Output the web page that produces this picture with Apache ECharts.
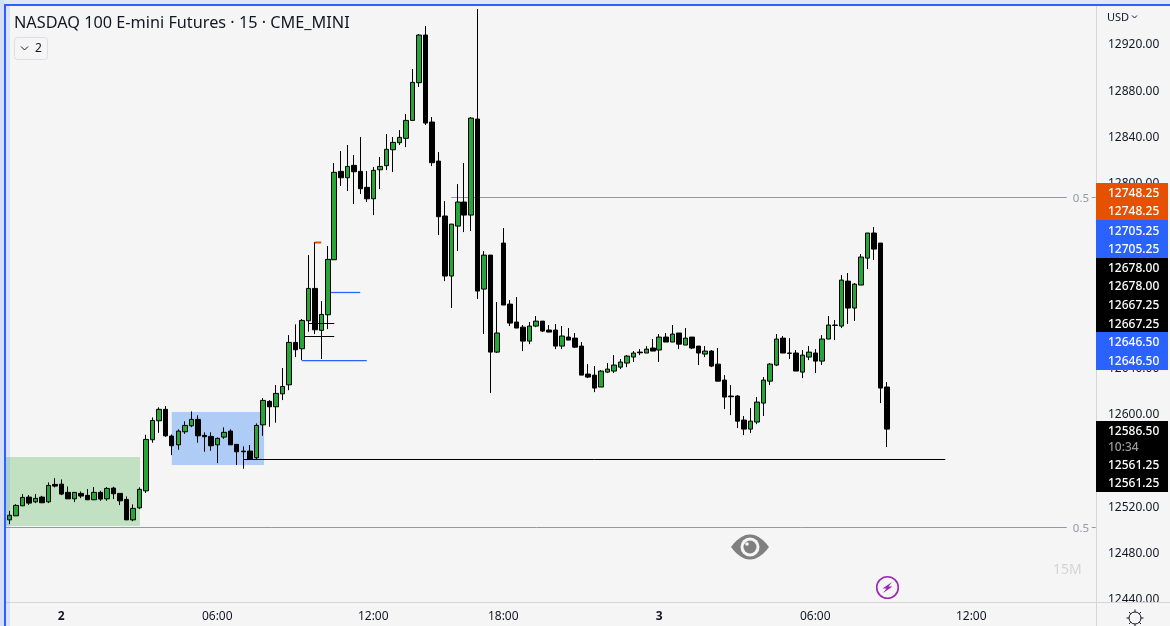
<!DOCTYPE html>
<html><head><meta charset="utf-8">
<script src="https://cdn.jsdelivr.net/npm/echarts@6/dist/echarts.min.js"></script>
<style>html,body{margin:0;padding:0;background:#f5f5f5}#c{width:1170px;height:626px}</style>
</head><body><div id="c"></div>
<script>
const opens=[12508,12511.5,12520.2,12527.7,12523.6,12527.7,12523.6,12538.7,12538.9,12531.8,
12526.2,12530.9,12529.2,12525.4,12531.8,12526.2,12535.5,12530.9,12525.7,12508,
12518.4,12533.1,12577.3,12593.7,12603.6,12580.5,12572.9,12584.2,12589.4,12594.9,
12581.1,12580.2,12572.9,12579.6,12584.8,12573.3,12567.5,12567.5,12561.7,12590.2,
12610.5,12605.8,12617,12624.8,12661.5,12656,12680.2,12708.2,12671.9,12685.4,
12733,12809.4,12803.9,12814.6,12809.4,12795.6,12785.7,12810.8,12814.3,12828.1,
12834.2,12838,12853.5,12886.1,12927.3,12852.1,12818.3,12770.8,12718.9,12762.1,
12782.9,12771.6,12854.7,12707.6,12737,12653.1,12747.4,12694.6,12679.1,12674.7,
12662.6,12675.6,12679.9,12672.2,12672.2,12658.3,12666.1,12665.2,12658.3,12634.1,
12633.2,12622.9,12635.8,12636.7,12640.1,12643.6,12648.8,12653.1,12652.3,12656.6,
12654.9,12666.1,12661.8,12669.6,12659.2,12666.1,12658.3,12651.4,12654,12642.7,
12628.9,12615.1,12615.1,12594.3,12586.5,12592.6,12609,12628,12641.9,12665.2,
12652.3,12652.3,12635.8,12648.8,12652.3,12645.3,12664.4,12676.5,12675.6,12714.5,
12691.2,12711.1,12734.4,12756.1,12747.4,12622.9];
const closes=[12512,12520.5,12527.4,12522.5,12526.6,12522.8,12537.8,12537.2,12530.3,12526.2,
12531.8,12528.6,12525.4,12531.8,12526,12535.2,12530.6,12524.5,12508,12517.9,
12534.4,12577.6,12594,12603.6,12580.7,12572.1,12584.8,12589.7,12594.9,12580.7,
12579.9,12572.1,12578.5,12583.7,12572.9,12566.9,12566.9,12560.6,12589.7,12611.3,
12605.8,12617.4,12623.4,12661.5,12655.1,12680.5,12708.2,12672.4,12685.7,12733.3,
12808.6,12803.9,12813.7,12809.1,12794.4,12785.7,12810.3,12813.7,12828.5,12834.5,
12838.8,12853.5,12886.4,12927.3,12851.2,12816.9,12770.2,12718.9,12763.8,12782.9,
12771.6,12855.5,12705.9,12737,12653.1,12669.6,12693.8,12678.2,12673.9,12662.6,
12675.6,12679.9,12671.3,12670.4,12658.3,12667,12663.5,12657.4,12633.2,12631.5,
12622,12636.7,12638.4,12641.9,12644.5,12649.7,12652.3,12652.5,12655.7,12654,
12666.1,12661.8,12668.7,12660,12665.2,12656.6,12652.3,12654,12641,12628,
12614.2,12614.5,12593.4,12586.5,12593.4,12609.9,12628.9,12642.7,12664.4,12652.3,
12652,12636.7,12650.5,12653.1,12645.3,12664.4,12676.5,12676.2,12715.4,12691.2,
12711.9,12735.3,12756.1,12742.2,12622,12586.5];
const highs=[12515.8,12521.6,12530.3,12529.4,12530.3,12528.8,12540.4,12544.1,12543,12536.9,
12531.8,12532.6,12534.6,12536.4,12533.2,12536.4,12536.6,12530.9,12528.3,12521.4,
12536.1,12581.6,12596.6,12605.3,12606.4,12581.9,12586.3,12593.2,12601.8,12598.4,
12583.7,12583.7,12579.3,12588,12586.3,12573.3,12571.6,12572.7,12591.4,12613.3,
12611.6,12624.6,12639.3,12667.8,12677.1,12681.7,12737,12748.25,12697.2,12744.8,
12816.6,12827,12832.2,12823.5,12839.1,12809.7,12813.1,12821.8,12841.7,12839.1,
12845.1,12859,12897.9,12928.2,12935.1,12856.4,12826.1,12783.7,12763.8,12798.4,
12816.6,12856.4,12949.8,12740.5,12737,12696.4,12760.4,12698.1,12700.7,12676.5,
12679.1,12684.3,12679.9,12676.5,12677.4,12675.6,12673.9,12669.6,12661.8,12642.7,
12641,12637.6,12643.6,12650.5,12647.1,12650.5,12654,12655.7,12658.3,12664.4,
12668.7,12669.6,12676.5,12669.6,12673.9,12666.1,12658.3,12658.3,12654.9,12656.6,
12633.2,12624.6,12615.9,12597.8,12604.7,12614.2,12631.5,12643.6,12668.7,12667,
12665.2,12654.9,12654.9,12658.3,12655.7,12667.8,12684.3,12680.8,12719.7,12721.5,
12712.8,12737.9,12756.1,12761.2,12747.4,12627.2];
const lows=[12504.3,12511.3,12519.9,12521,12522.5,12522.5,12522.5,12536.1,12529.4,12526,
12523.4,12526.8,12525.1,12525.1,12524.5,12524.5,12526,12520.8,12508,12506.9,
12517.3,12531.2,12574.7,12583.3,12579.8,12564,12568.6,12582.4,12588.2,12574.7,
12566.9,12567.7,12557.1,12578.1,12572.9,12555.4,12552.2,12560.3,12560.3,12580.7,
12588.5,12592,12611.6,12620.2,12648.8,12646.2,12670.7,12668.7,12647.1,12673,
12733,12796.7,12792.4,12781.1,12789.8,12782.9,12771.6,12794.1,12810.5,12808.8,
12832.2,12830.4,12853.5,12882.4,12849.5,12814,12754.3,12714.5,12691.2,12740.5,
12756.9,12757.8,12699,12668.7,12617.7,12652.3,12693.8,12675.6,12673.9,12654,
12660,12674.7,12670.4,12670.4,12655.7,12655.7,12663.5,12656.6,12633.2,12630.6,
12618.5,12622.9,12635,12635,12638.4,12640.1,12644.5,12650.5,12652.3,12654,
12644.5,12661.8,12661.8,12655.7,12659.2,12655.7,12641.9,12648.8,12640.1,12628,
12603.8,12598.6,12587.4,12581.3,12583.1,12590.8,12597.8,12624.6,12641,12652.3,
12647.1,12636.7,12630.6,12646.2,12635,12641.9,12664.4,12663.5,12673.9,12677.4,
12680,12711.1,12724.9,12732.7,12609,12571];

// x-axis tick labels: slot index -> label (slots beyond the last bar are the empty right margin)
const slotCount=168;
const tickSlots=[8,32,56,76,100,124,148];
const tickLabels=['2','06:00','12:00','18:00','3','06:00','12:00'];
const dayLabels=['2','3'];
const categories=Array.from({length:slotCount},(_,i)=>{const k=tickSlots.indexOf(i);return k<0?'':tickLabels[k];});

// zones: [startSlot,endSlot,topPrice,bottomPrice]
const zones=[[-0.5,20.1,12562.4,12502.7],[25,39.2,12601.3,12555.5]];
const zoneColors=['#c2e0c2','#aeccf5'];
// levels: [startSlot,endSlot,price]
const levels=[[36,144,12560.5],[45.5,50,12667.25],[46,50,12678],[49.5,54,12705.25],[45,55,12646.5],[47,48,12748.25]];
const levelColors=['#000000','#000000','#000000','#2962ff','#2962ff','#e65100'];
// fib lines with their 0.5 labels: [startSlot,endSlot,price]
const fibLines=[[68,162.7,12787.2],[-0.5,162.7,12501.8]];

// price tags on the scale
const priceTags=[
 {top:183,bottom:220,color:'#e65100',rows:[['12748.25',192],['12748.25',210.5]]},
 {top:220,bottom:258,color:'#2962ff',rows:[['12705.25',230],['12705.25',248]]},
 {top:258,bottom:332,color:'#000000',rows:[['12678.00',267.5],['12678.00',285.5],['12667.25',304.5],['12667.25',323]]},
 {top:332,bottom:370,color:'#2962ff',rows:[['12646.50',341.5],['12646.50',360]]},
 {top:421,bottom:492,color:'#000000',rows:[['12586.50',430],['10:34',446],['12561.25',464.5],['12561.25',482.5]]}
];
const FONT='"Noto Sans",sans-serif';

const graphic=[];
const bg='#f5f5f5';
// frame
graphic.push({type:'rect',z:60,shape:{x:0,y:0,width:1170,height:4},style:{fill:'#dfe6f5'}});
graphic.push({type:'rect',z:60,shape:{x:0,y:0,width:4,height:626},style:{fill:'#d5dff5'}});
graphic.push({type:'rect',z:60,shape:{x:6,y:6,width:4,height:620},style:{fill:'rgba(41,98,255,0.12)'}});
graphic.push({type:'rect',z:61,shape:{x:4,y:4,width:1166,height:2},style:{fill:'#2962ff'}});
graphic.push({type:'rect',z:61,shape:{x:4,y:4,width:2,height:622},style:{fill:'#2962ff'}});
// bottom strip and scale lines
graphic.push({type:'rect',z:5,shape:{x:0,y:602,width:1170,height:24},style:{fill:bg}});
graphic.push({type:'line',z:6,shape:{x1:6,y1:602.5,x2:1170,y2:602.5},style:{stroke:'#d6d6d6',lineWidth:1}});
graphic.push({type:'line',z:6,shape:{x1:1096.5,y1:6,x2:1096.5,y2:626},style:{stroke:'#d6d6d6',lineWidth:1}});
// title and buttons
graphic.push({type:'text',z:30,style:{x:14,y:23,text:'NASDAQ 100 E-mini Futures · 15 · CME_MINI',font:'16.25px '+FONT,fill:'#131722',textVerticalAlign:'middle'}});
graphic.push({type:'rect',z:30,shape:{x:14.5,y:37.5,width:33,height:22,r:3},style:{fill:bg,stroke:'#dcdee6',lineWidth:1}});
graphic.push({type:'polyline',z:31,shape:{points:[[21,46.5],[24.5,50],[28,46.5]]},style:{stroke:'#131722',lineWidth:1,fill:null}});
graphic.push({type:'text',z:31,style:{x:35,y:49,text:'2',font:'12px '+FONT,fill:'#131722',textVerticalAlign:'middle'}});
graphic.push({type:'text',z:30,style:{x:1107,y:18,text:'USD',font:'11px '+FONT,fill:'#131722',textVerticalAlign:'middle'}});
graphic.push({type:'polyline',z:31,shape:{points:[[1132,15.5],[1134.5,18],[1137,15.5]]},style:{stroke:'#131722',lineWidth:1,fill:null}});
// tags
priceTags.forEach(t=>{
 graphic.push({type:'rect',z:40,shape:{x:1096,y:t.top,width:72,height:t.bottom-t.top},style:{fill:t.color}});
 t.rows.forEach(r=>graphic.push({type:'text',z:41,style:{x:1108,y:r[1]+1.2,text:r[0],font:'500 12px '+FONT,fill:r[0]==='10:34'?'#9a9a9a':'#ffffff',textVerticalAlign:'middle'}}));
});
// eye
const eyePts=[];
for(let k=-19;k<=19;k++){eyePts.push([750+k,547-12.5*(1-k*k/361)]);}
for(let k=19;k>=-19;k--){eyePts.push([750+k,547+12.5*(1-k*k/361)]);}
graphic.push({type:'polygon',z:30,shape:{points:eyePts},style:{fill:'#808080'}});
graphic.push({type:'circle',z:31,shape:{cx:750,cy:547,r:9.5},style:{fill:'#f5f5f5'}});
graphic.push({type:'circle',z:32,shape:{cx:750,cy:547,r:6.5},style:{fill:'#808080'}});
graphic.push({type:'circle',z:33,shape:{cx:747,cy:544,r:1.8},style:{fill:'#f5f5f5'}});
// bolt
graphic.push({type:'circle',z:30,shape:{cx:887.5,cy:587.5,r:10.8},style:{fill:bg,stroke:'#9c27b0',lineWidth:1.6}});
graphic.push({type:'polygon',z:31,shape:{points:[[892,582],[882.5,588.5],[886.5,588.5],[883,593],[892.5,586.5],[888.5,586.5]]},style:{fill:'#9c27b0'}});
// 15M
graphic.push({type:'text',z:30,style:{x:1053,y:570,text:'15M',font:'14px '+FONT,fill:'#d4d4d4',textVerticalAlign:'middle'}});
// gear
graphic.push({type:'circle',z:30,shape:{cx:1135,cy:618,r:6},style:{fill:bg,stroke:'#131722',lineWidth:1}});
for(let a=0;a<8;a++){const t=a*Math.PI/4;graphic.push({type:'line',z:30,shape:{x1:1135+6*Math.cos(t),y1:618+6*Math.sin(t),x2:1135+8.5*Math.cos(t),y2:618+8.5*Math.sin(t)},style:{stroke:'#131722',lineWidth:1}});}

const chart=echarts.init(document.getElementById('c'),null,{renderer:'canvas'});
chart.setOption({
 animation:false,backgroundColor:bg,graphic:graphic,
 grid:{left:6,top:-2.75,width:1092,height:601.25,outerBoundsMode:'none',containLabel:false},
 xAxis:[
  {type:'category',data:categories,boundaryGap:true,position:'bottom',offset:3.5,z:10,
   axisLine:{show:false},axisTick:{show:false},splitLine:{show:false},
   axisLabel:{interval:0,margin:9,color:'#131722',fontFamily:FONT,fontSize:12,hideOverlap:false,
    formatter:v=>dayLabels.includes(v)?'{d|'+v+'}':v,
    rich:{d:{fontWeight:'bold',fontSize:12,fontFamily:FONT,color:'#131722'}}}},
  {type:'value',min:-0.5,max:slotCount-0.5,show:false}
 ],
 yAxis:[{type:'value',position:'right',offset:-2,min:12440,max:12960,interval:40,z:1,
   axisLine:{show:false},axisTick:{show:false},splitLine:{show:false},
   axisLabel:{margin:12,color:'#131722',fontFamily:FONT,fontSize:12,showMaxLabel:false,
    formatter:v=>'{p|'+v.toFixed(2)+'}',
    rich:{p:{padding:[3,0,0,0],color:'#131722',fontFamily:FONT,fontSize:12}}}}],
 series:[
  {type:'custom',name:'zones',xAxisIndex:1,yAxisIndex:0,z:1,silent:true,clip:false,data:zones,
   renderItem:(p,api)=>{const a=api.coord([api.value(0),api.value(2)]),b=api.coord([api.value(1),api.value(3)]);
    return {type:'rect',shape:{x:a[0],y:a[1],width:b[0]-a[0],height:b[1]-a[1]},style:{fill:zoneColors[p.dataIndex]}};}},
  {type:'custom',name:'fib',xAxisIndex:1,yAxisIndex:0,z:1,silent:true,clip:false,data:fibLines,
   renderItem:(p,api)=>{const a=api.coord([api.value(0),api.value(2)]),b=api.coord([api.value(1),api.value(2)]);const y=Math.round(a[1])+0.5;
    return {type:'group',children:[
     {type:'line',shape:{x1:a[0],y1:y,x2:b[0],y2:y},style:{stroke:'#9598a1',lineWidth:1}},
     {type:'line',shape:{x1:b[0]+25,y1:y,x2:b[0]+29,y2:y},style:{stroke:'#9598a1',lineWidth:1}},
     {type:'text',style:{x:b[0]+6,y:y+1,text:'0.5',font:'11.5px '+FONT,fill:'#9598a1',textVerticalAlign:'middle'}}
    ]};}},
  {type:'candlestick',name:'NQ',xAxisIndex:0,yAxisIndex:0,z:2,barWidth:5,
   data:opens.map((o,i)=>[o,closes[i],lows[i],highs[i]]),
   itemStyle:{color:'#26a637',color0:'#000000',borderColor:'#000000',borderColor0:'#000000',borderColorDoji:'#000000',borderWidth:1}},
  {type:'custom',name:'levels',xAxisIndex:1,yAxisIndex:0,z:3,silent:true,clip:false,data:levels,
   renderItem:(p,api)=>{const a=api.coord([api.value(0),api.value(2)]),b=api.coord([api.value(1),api.value(2)]);const y=Math.round(a[1])+0.5;
    return {type:'line',shape:{x1:a[0],y1:y,x2:b[0],y2:y},style:{stroke:levelColors[p.dataIndex],fill:'none',lineWidth:p.dataIndex===5?2:(p.dataIndex>2?1.25:1)}};}}
 ]
});
</script></body></html>
